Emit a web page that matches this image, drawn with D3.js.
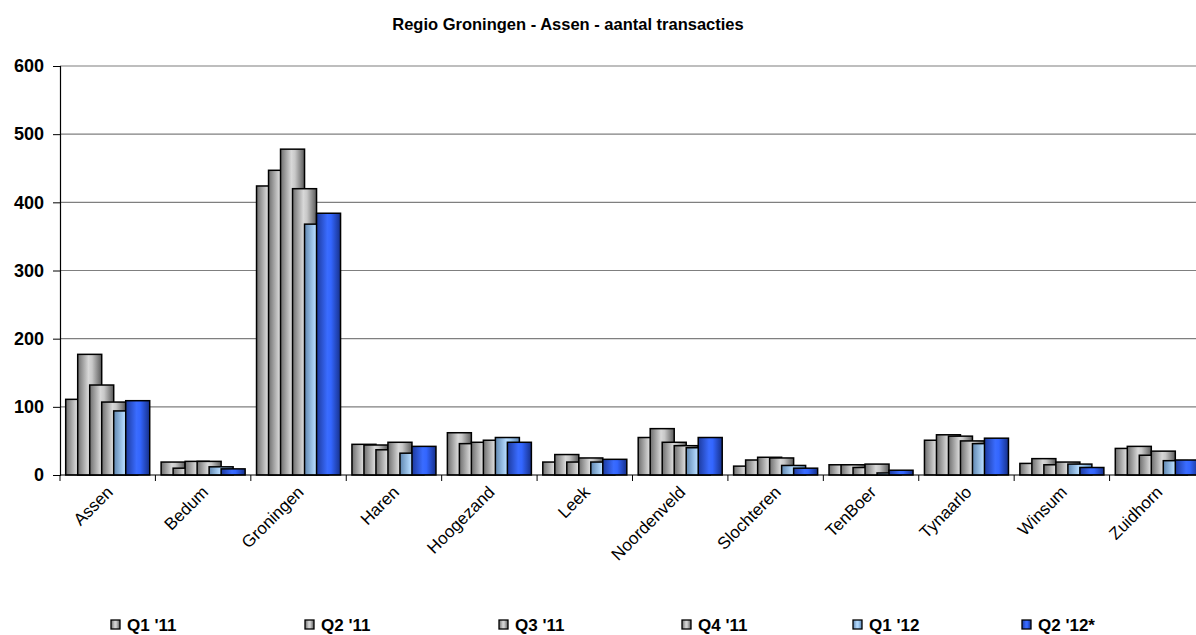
<!DOCTYPE html>
<html>
<head>
<meta charset="utf-8">
<script src="https://cdn.jsdelivr.net/npm/d3@7"></script>
<style>
body{margin:0;background:#fff;overflow:hidden}
svg{display:block;font-family:"Liberation Sans",Arial,sans-serif}
</style>
</head>
<body>
<svg id="c" width="1196" height="635"></svg>
<script>
const categories = ["Assen","Bedum","Groningen","Haren","Hoogezand","Leek","Noordenveld","Slochteren","TenBoer","Tynaarlo","Winsum","Zuidhorn"];
const seriesNames = ["Q1 '11","Q2 '11","Q3 '11","Q4 '11","Q1 '12","Q2 '12*"];
const q1_11 = [111,19,424,45,62,19,55,13,15,51,17,39];
const q2_11 = [177,10,447,44,46,30,68,22,15,59,24,42];
const q3_11 = [132,20,478,37,48,19,48,26,11,57,15,29];
const q4_11 = [107,20,420,48,51,25,43,25,16,50,19,35];
const q1_12 = [94,12,368,32,55,19,40,14,3,46,16,21];
const q2_12 = [109,9,384,42,48,23,55,10,7,54,11,22];
const yTicks = [0,100,200,300,400,500,600];
const title = "Regio Groningen - Assen - aantal transacties";

const seriesValues = [q1_11,q2_11,q3_11,q4_11,q1_12,q2_12];
const svg = d3.select("#c");
const defs = svg.append("defs");
function grad(id, stops){
  const g = defs.append("linearGradient").attr("id",id).attr("x1","0%").attr("x2","100%").attr("y1","0%").attr("y2","0%");
  stops.forEach(s=>g.append("stop").attr("offset",s[0]).attr("stop-color",s[1]));
}
grad("gGray",[["0%","#6e6e6e"],["45%","#d8d8d8"],["60%","#c8c8c8"],["100%","#5a5a5a"]]);
grad("gLight",[["0%","#5f86b0"],["45%","#b5dbff"],["60%","#a6d0f7"],["100%","#5c86b4"]]);
grad("gBlue",[["0%","#1c3a9e"],["45%","#3a6cff"],["60%","#3366ff"],["100%","#16308a"]]);
const fills = ["url(#gGray)","url(#gGray)","url(#gGray)","url(#gGray)","url(#gLight)","url(#gBlue)"];

const pLeft = 60, pRight = 1205, pTop = 66, pBottom = 475;
const x = d3.scaleBand().domain(categories).range([pLeft,pRight]).padding(0);
const y = d3.scaleLinear().domain([0,600]).range([pBottom,pTop]);

// title
svg.append("text").attr("x",568).attr("y",30).attr("text-anchor","middle")
  .attr("font-weight","bold").attr("font-size",16.5).text(title);

// gridlines
svg.append("g").selectAll("line").data(yTicks.filter(d=>d>0)).join("line")
  .attr("x1",pLeft).attr("x2",pRight).attr("y1",d=>y(d)).attr("y2",d=>y(d))
  .attr("stroke","#7f7f7f").attr("stroke-width",1.2);

// y axis
const yAxis = d3.axisLeft(y).tickValues(yTicks).tickSize(7).tickPadding(9);
const ya = svg.append("g").attr("transform",`translate(${pLeft},0)`).call(yAxis);
ya.select(".domain").attr("stroke","#000").attr("stroke-width",1.2);
ya.selectAll(".tick line").attr("stroke","#000");
ya.selectAll("text").attr("font-size",18).attr("font-weight","bold").attr("fill","#000").attr("font-family","Liberation Sans, Arial, sans-serif");

// bars
const bw = x.bandwidth();
const step = bw*12/95.4;
const barW = step*2;
const offset0 = (bw - 7*step)/2;
seriesValues.forEach((vals,si)=>{
  svg.append("g").selectAll("rect").data(vals).join("rect")
    .attr("x",(d,i)=>x(categories[i])+offset0+si*step)
    .attr("width",barW)
    .attr("y",d=>y(d))
    .attr("height",d=>y(0)-y(d))
    .attr("fill",fills[si])
    .attr("stroke","#000").attr("stroke-width",1.5);
});

// x axis
const xa = svg.append("g").attr("transform",`translate(0,${pBottom})`);
xa.append("line").attr("x1",pLeft).attr("x2",pRight).attr("stroke","#000").attr("stroke-width",1.2);
xa.selectAll(".tk").data(d3.range(categories.length+1)).join("line").attr("class","tk")
  .attr("x1",i=>pLeft+i*bw).attr("x2",i=>pLeft+i*bw).attr("y1",0).attr("y2",6).attr("stroke","#000");
xa.selectAll(".lbl").data(categories).join("text").attr("class","lbl")
  .attr("transform",d=>`translate(${x(d)+bw/2+2},${14}) rotate(-45)`)
  .attr("text-anchor","end").attr("font-size",17).attr("dy","0.35em").text(d=>d);

// legend
const legX = [111,305,499,682,853,1022];
const lg = svg.append("g").selectAll("g").data(seriesNames).join("g")
  .attr("transform",(d,i)=>`translate(${legX[i]},620)`);
lg.append("rect").attr("width",9).attr("height",9).attr("fill",(d,i)=>fills[i]).attr("stroke","#000").attr("stroke-width",1.3);
lg.append("text").attr("x",16).attr("y",11).attr("font-size",17).attr("font-weight","bold").text(d=>d);
</script>
</body>
</html>
